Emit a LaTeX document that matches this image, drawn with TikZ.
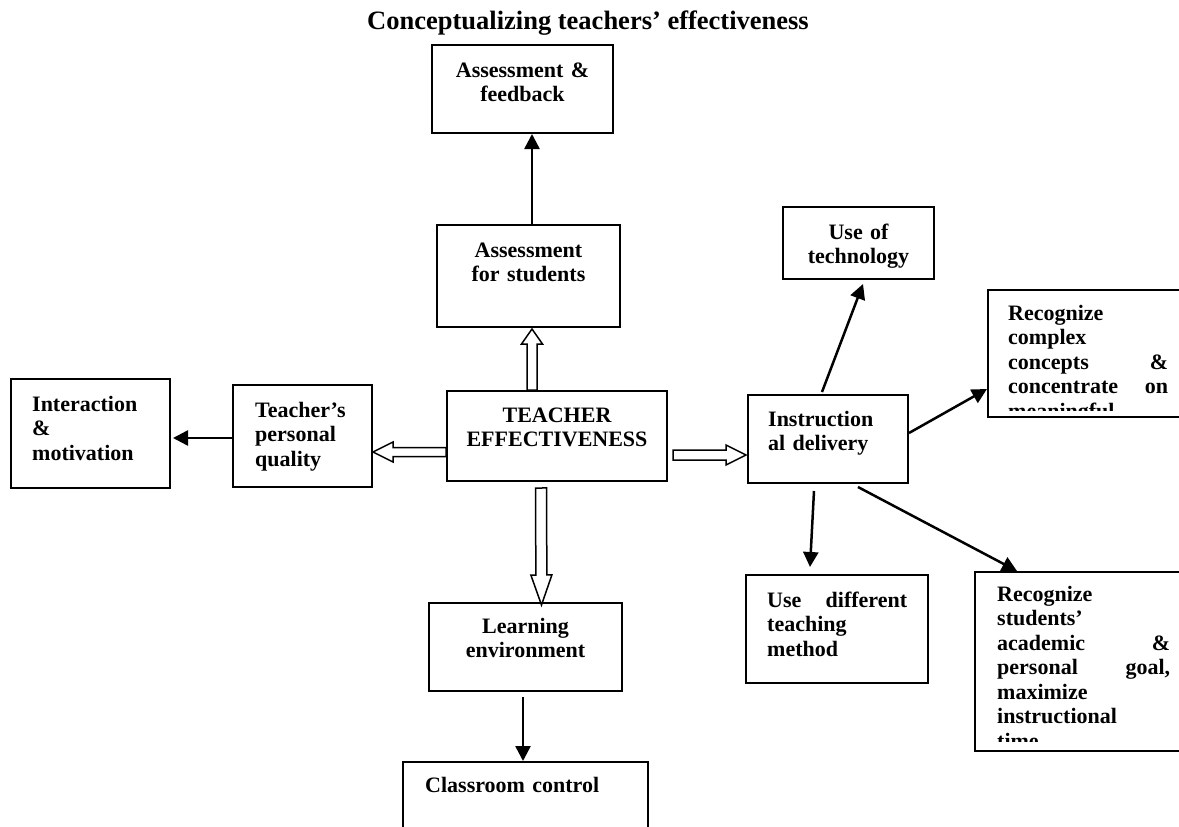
\documentclass[tikz,border=0pt]{standalone}
\usepackage{fontspec}
\setmainfont{Liberation Serif}
\usetikzlibrary{arrows.meta,calc}

\tikzset{
  box/.style={draw, line width=2pt, inner sep=0pt},
  txt/.style={font=\bfseries\fontsize{22}{24.5}\selectfont, inner sep=0pt},
  ctxt/.style={txt, text width=200pt, align=center, anchor=base},
  ltxt/.style={txt, text width=175pt, align=left, anchor=base west},
  arr/.style={line width=2.5pt, -{Triangle[length=15pt,width=15pt]}},
  hollow/.style={line width=1.5pt, line join=miter}
}

% rectangle node given by its corners (x1,y1) and (x2,y2)
\newcommand\boxat[5]{%
  \node[box, minimum width={#4-#2}, minimum height={#5-#3}] (#1) at ({(#2+#4)/2},{(#3+#5)/2}) {};}

% outlined block arrow: start, tip, shaft half-width, head half-width, head length
\newcommand\hollowarrow[5]{%
  \coordinate (ha-a) at (#1);
  \coordinate (ha-b) at (#2);
  \coordinate (ha-c) at ($(ha-b)!#5pt!(ha-a)$);
  \draw[hollow] ($(ha-a)!#3pt!90:(ha-b)$) -- ($(ha-c)!#3pt!90:(ha-b)$)
    -- ($(ha-c)!#4pt!90:(ha-b)$) -- (ha-b) -- ($(ha-c)!#4pt!-90:(ha-b)$)
    -- ($(ha-c)!#3pt!-90:(ha-b)$) -- ($(ha-a)!#3pt!-90:(ha-b)$) -- cycle;}

\begin{document}
\begin{tikzpicture}[x=1pt,y=-1pt]
\clip (0,0) rectangle (1179,827);
\fill[white] (0,0) rectangle (1179,827);

% title
\node[inner sep=0pt, anchor=base, font=\bfseries\fontsize{26.5}{30}\selectfont] (title) at (588,29)
  {Conceptualizing teachers’ effectiveness};

% boxes
\boxat{afb}{432}{45}{613}{133}
\boxat{afs}{437}{225}{620}{327}
\boxat{te}{447}{391}{667}{481}
\boxat{tpq}{233}{385}{372}{487}
\boxat{im}{11}{379}{170}{488}
\boxat{id}{748}{395}{908}{483}
\boxat{uot}{783}{207}{934}{279}
\boxat{rcc}{988}{290}{1190}{417}
\boxat{udt}{746}{575}{928}{683}
\boxat{rsa}{975}{572}{1190}{751}
\boxat{le}{429}{603}{622}{691}
\boxat{cc}{403}{762}{648}{860}

% box texts
\node[ctxt] at (522.5,77) {Assessment \&\\feedback};
\node[ctxt] at (528.5,257) {Assessment\\for students};
\node[ctxt] at (557,422) {TEACHER\\EFFECTIVENESS};
\node[ltxt] at (255,417) {Teacher’s\\personal\\quality};
\node[ltxt] at (32,411) {Interaction\\\&\\motivation};
\node[ltxt] at (768,426) {Instruction\\al delivery};
\node[ctxt] at (858.5,239) {Use of\\technology};
\node[ltxt, text width=140pt] at (767,607) {Use\hfill different\\teaching\\method};
\node[ctxt] at (525.5,633) {Learning\\environment};
\node[ltxt, text width=220pt] at (425,792) {Classroom control};
\begin{scope}
  \clip (rcc.north west) rectangle (1190,410);
  \node[ltxt, text width=160pt] at (1008,320)
    {Recognize\\complex\\concepts\hfill\&\\concentrate\hfill on\\meaningful};
\end{scope}
\begin{scope}
  \clip (rsa.north west) rectangle (1190,741);
  \node[ltxt, text width=173pt] at (997,601)
    {Recognize\\students’\\academic\hfill\&\\personal\hfill goal,\\maximize\\instructional\\time};
\end{scope}

% solid connectors
\draw[arr] ($(afs.north)+(3.5,0)$) -- ($(afs.north |- afb.south)+(3.5,0)$);
\draw[arr] ($(tpq.west)+(0,2)$) -- ($(im.east |- tpq.west)+(2,2)$);
\draw[arr] ($(id.north)+(-6,-2)$) -- ($(uot.south)+(4.5,4)$);
\draw[arr] ($(id.east)+(0,-6)$) -- ($(rcc.south west)+(0,-29)$);
\draw[arr] ($(id.south)+(-14,7)$) -- ($(udt.north)+(-27,-7)$);
\draw[arr] ($(id.south)+(30,3)$) -- ($(rsa.north west)+(43,0)$);
\draw[arr] ($(le.south)+(-2.5,5)$) -- ($(cc.north)+(-2.5,0)$);

% outlined block arrows from the central box
\hollowarrow{$(te.north)+(-25,0)$}{$(afs.south)+(3.5,1)$}{5}{10.5}{15}
\hollowarrow{$(te.west)+(0,16)$}{$(tpq.east |- te.west)+(0,16)$}{4.5}{10}{20}
\hollowarrow{$(te.east)+(5,19)$}{$(id.west |- te.east)+(-1,19)$}{5}{10}{20}
\hollowarrow{$(te.south)+(-16,6)$}{$(le.north)+(16,3)$}{5.5}{10.5}{30}
\end{tikzpicture}
\end{document}
